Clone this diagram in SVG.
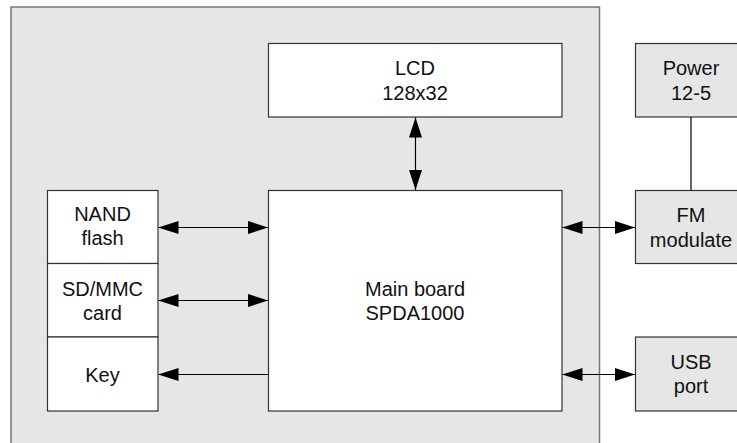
<svg xmlns="http://www.w3.org/2000/svg" width="737" height="443" viewBox="0 0 737 443">
<style>
.box{fill:#ffffff;stroke:#333333;stroke-width:1.2}
.gbox{fill:#e6e6e6;stroke:#333333;stroke-width:1.2}
.t{font-family:"Liberation Sans",Arial,sans-serif;font-size:20px;fill:#111111;text-anchor:middle}
.c{stroke:#000000;stroke-width:1.2;fill:none}
</style>
<defs>
<marker id="ah" markerUnits="userSpaceOnUse" markerWidth="20" markerHeight="13" refX="20" refY="6.5" orient="auto-start-reverse" viewBox="0 0 20 13">
<path d="M0,0 L20,6.5 L0,13 z" fill="#000000"/>
</marker>
</defs>
<rect id="outer" x="11" y="7" width="588.5" height="460" fill="#e6e6e6" stroke="#777777" stroke-width="1.5"/>
<g id="lcd"><rect class="box" x="268.5" y="43.5" width="293.5" height="73.5"/><text class="t" x="415" y="74.5">LCD</text><text class="t" x="415" y="99.5">128x32</text></g>
<g id="main"><rect class="box" x="268.5" y="190.5" width="293.5" height="220.5"/><text class="t" x="415" y="295.5">Main board</text><text class="t" x="415" y="319.5">SPDA1000</text></g>
<g id="nand"><rect class="box" x="47.5" y="190.5" width="110.5" height="73"/><text class="t" x="102.5" y="221">NAND</text><text class="t" x="102.5" y="245">flash</text></g>
<g id="sd"><rect class="box" x="47.5" y="263.5" width="110.5" height="73.5"/><text class="t" x="102.5" y="295.5">SD/MMC</text><text class="t" x="102.5" y="319.5">card</text></g>
<g id="key"><rect class="box" x="47.5" y="337" width="110.5" height="74"/><text class="t" x="102.5" y="381.5">Key</text></g>
<g id="power"><rect class="gbox" x="635.5" y="43.5" width="111" height="73.5"/><text class="t" x="691" y="75">Power</text><text class="t" x="691" y="100">12-5</text></g>
<g id="fm"><rect class="gbox" x="635.5" y="190.5" width="111" height="73"/><text class="t" x="691" y="222">FM</text><text class="t" x="691" y="246.5">modulate</text></g>
<g id="usb"><rect class="gbox" x="635.5" y="337" width="111" height="74"/><text class="t" x="691" y="368.5">USB</text><text class="t" x="691" y="392.5">port</text></g>
<g id="connectors">
<line class="c" x1="415.5" y1="117.5" x2="415.5" y2="190" marker-start="url(#ah)" marker-end="url(#ah)"/>
<line class="c" x1="158.5" y1="227.5" x2="268" y2="227.5" marker-start="url(#ah)" marker-end="url(#ah)"/>
<line class="c" x1="158.5" y1="300.5" x2="268" y2="300.5" marker-start="url(#ah)" marker-end="url(#ah)"/>
<line class="c" x1="268" y1="374.5" x2="158.5" y2="374.5" marker-end="url(#ah)"/>
<line class="c" x1="562.5" y1="227.5" x2="635" y2="227.5" marker-start="url(#ah)" marker-end="url(#ah)"/>
<line class="c" x1="562.5" y1="374.5" x2="635" y2="374.5" marker-start="url(#ah)" marker-end="url(#ah)"/>
<line class="c" x1="691" y1="117" x2="691" y2="190.5"/>
</g>
</svg>
